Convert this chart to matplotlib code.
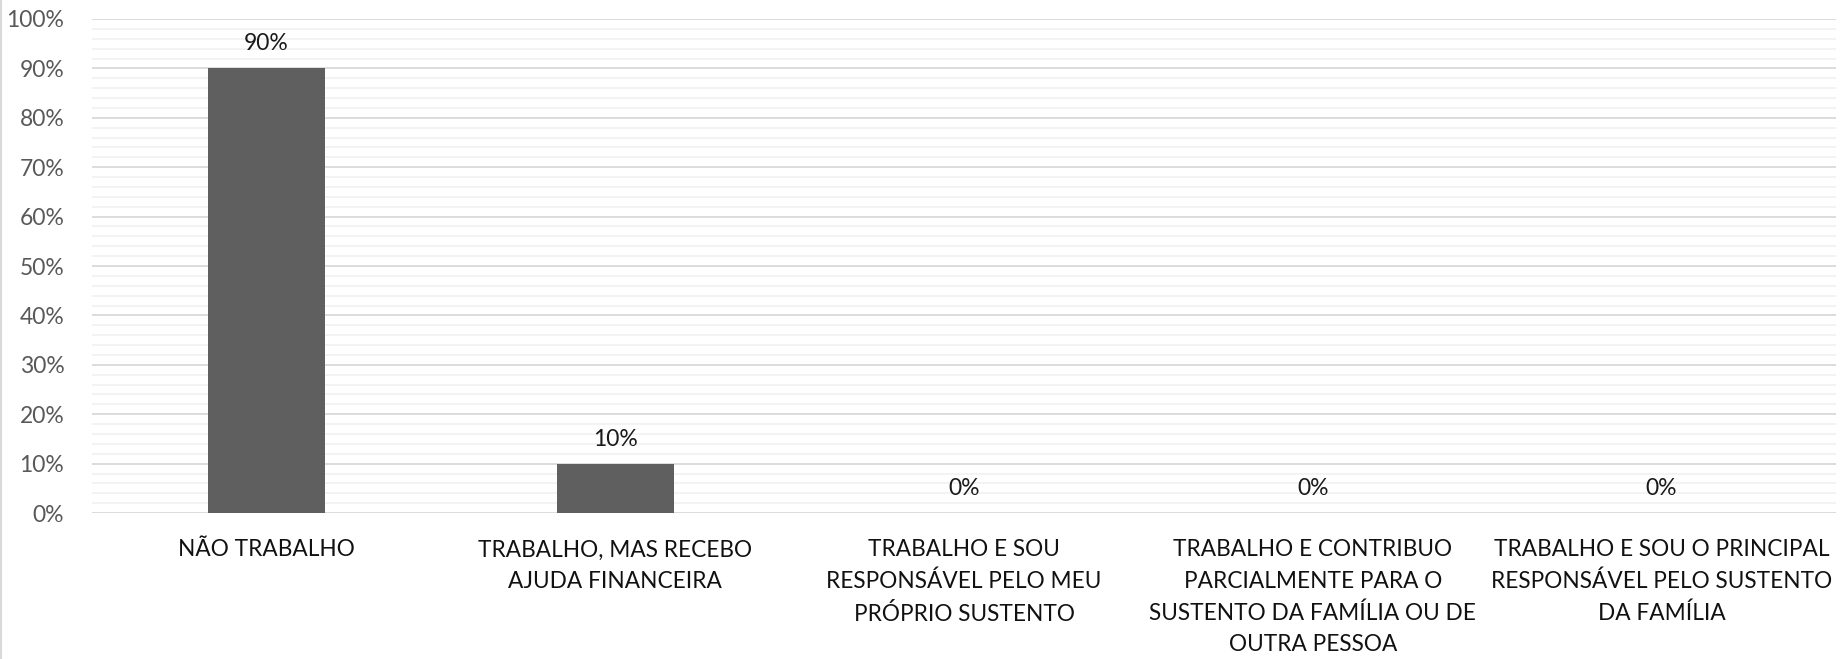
import matplotlib; matplotlib.use("Agg")
import matplotlib.pyplot as plt
from matplotlib.ticker import MultipleLocator, PercentFormatter
from matplotlib.lines import Line2D

categories = ["NÃO TRABALHO",
              "TRABALHO, MAS RECEBO\nAJUDA FINANCEIRA",
              "TRABALHO E SOU\nRESPONSÁVEL PELO MEU\nPRÓPRIO SUSTENTO",
              "TRABALHO E CONTRIBUO\nPARCIALMENTE PARA O\nSUSTENTO DA FAMÍLIA OU DE\nOUTRA PESSOA",
              "TRABALHO E SOU O PRINCIPAL\nRESPONSÁVEL PELO SUSTENTO\nDA FAMÍLIA"]
values = [90, 10, 0, 0, 0]

plt.rcParams['font.family'] = ['Lato', 'DejaVu Sans']
fig = plt.figure(figsize=(18.45, 6.59), dpi=100)
ax = fig.add_axes([0.0499, 0.2215, 0.9452, 0.7497])

x = range(len(categories))
ax.bar(x, values, width=0.335, color="#5f5f5f", zorder=3)
for xi, v in zip(x, values):
    ax.annotate(f"{v}%", (xi, v), xytext=(0, 10), textcoords="offset points",
                ha="center", va="bottom", fontsize=16.5, color="#1a1a1a")

ax.set_xlim(-0.5, len(categories) - 0.5)
ax.set_ylim(0, 100)
ax.yaxis.set_major_locator(MultipleLocator(10))
ax.yaxis.set_minor_locator(MultipleLocator(2))
ax.yaxis.set_major_formatter(PercentFormatter(decimals=0))
ax.grid(axis="y", which="major", color="#d9d9d9", lw=1.3, zorder=0)
ax.grid(axis="y", which="minor", color="#f2f2f2", lw=1.3, zorder=0)
for s in ax.spines.values():
    s.set_visible(False)
ax.tick_params(axis="both", which="both", length=0)
ax.tick_params(axis="y", labelsize=16.5, labelcolor="#595959", pad=20)
ax.set_xticks(list(x))
ax.set_xticklabels(categories, fontsize=16.3, color="#111111", linespacing=1.6, va="top")
ax.tick_params(axis="x", pad=19)

fig.add_artist(Line2D([0.0005, 0.0005], [0, 1], color="#d9d9d9", lw=1.5, transform=fig.transFigure))
fig.savefig("out.png", dpi=100)
